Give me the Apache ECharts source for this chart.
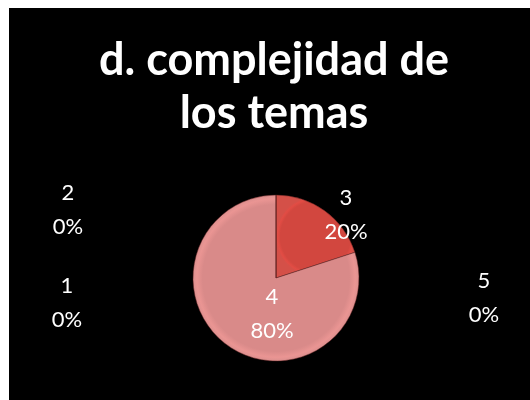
<!DOCTYPE html>
<html>
<head>
<meta charset="utf-8">
<script src="https://cdn.jsdelivr.net/npm/echarts@6/dist/echarts.min.js"></script>
<style>
  html, body { margin: 0; padding: 0; background: #fff; }
  #chart { width: 530px; height: 400px; }
</style>
</head>
<body>
<div id="chart"></div>
<script>
// categories and values (percent)
var categories = ['1', '2', '3', '4', '5']
var values = [0, 0, 20, 80, 0]
var sliceColors = ['#4f81bd', '#9bbb59', '#d2473f', '#d98a89', '#4bacc6']

// where each label sits (label centre, px)
var labelPos = [
  [67, 303],
  [68, 210],
  [346, 215],
  [272, 314],
  [484, 298]
]

var chart = echarts.init(document.getElementById('chart'))
var option = {
  backgroundColor: '#fff',
  graphic: [{
    type: 'rect',
    z: -10,
    shape: { x: 9, y: 8, width: 521, height: 392 },
    style: { fill: '#000' }
  }],
  title: {
    text: 'd. complejidad de\nlos temas',
    left: 269,
    textAlign: 'center',
    top: 29,
    textStyle: {
      color: '#fff',
      fontFamily: 'Lato',
      fontWeight: 'bold',
      fontSize: 45,
      lineHeight: 53
    }
  },
  series: [{
    type: 'pie',
    center: [276, 278],
    radius: 83,
    startAngle: 90,
    clockwise: true,
    animation: false,
    data: categories.map(function (c, i) {
      return {
        name: c,
        value: values[i],
        itemStyle: {
          color: {
            type: 'radial', x: 0.5, y: 0.5, r: 0.5,
            colorStops: [
              { offset: 0, color: sliceColors[i] },
              { offset: 0.88, color: sliceColors[i] },
              { offset: 0.95, color: echarts.color.lift(sliceColors[i], -0.08) },
              { offset: 1, color: echarts.color.lift(sliceColors[i], 0.05) }
            ]
          }
        }
      }
    }),
    itemStyle: { borderColor: 'rgba(90,30,30,0.6)', borderWidth: 0.8 },
    label: {
      show: true,
      formatter: '{b}\n{d}%',
      color: '#fff',
      fontFamily: 'Lato',
      fontSize: 22,
      lineHeight: 34,
      align: 'center'
    },
    labelLine: { show: false },
    labelLayout: function (p) {
      var pos = labelPos[p.dataIndex]
      return { x: pos[0], y: pos[1], align: 'center', verticalAlign: 'middle' }
    },
    emphasis: { disabled: true }
  }]
}
chart.setOption(option)
</script>
</body>
</html>
